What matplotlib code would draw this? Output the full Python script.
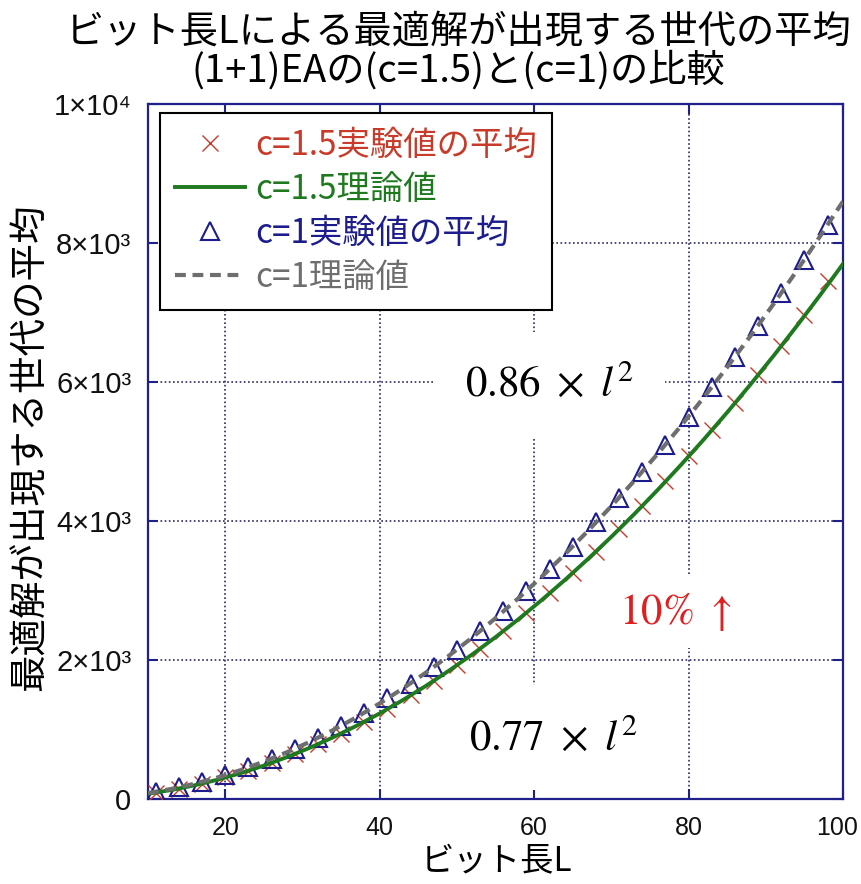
import numpy as np
import matplotlib
matplotlib.use("Agg")
import matplotlib.pyplot as plt
import matplotlib.transforms as mtransforms

plt.rcParams['font.family'] = ['Noto Sans CJK JP', 'DejaVu Sans']
plt.rcParams['mathtext.fontset'] = 'stix'

# ---- data ----
x_exp = [11, 14, 17, 20, 23, 26, 29, 32, 35, 38, 41, 44, 47, 50, 53,
         56, 59, 62, 65, 68, 71, 74, 77, 80, 83, 86, 89, 92, 95, 98]
c15_exp = [90, 150, 220, 310, 410, 520, 650, 790, 940, 1110, 1290, 1490, 1700, 1930, 2160,
           2420, 2680, 2960, 3250, 3560, 3880, 4220, 4570, 4930, 5310, 5700, 6100, 6520, 6970, 7450]
c1_exp = [100, 170, 250, 340, 460, 580, 720, 880, 1050, 1240, 1450, 1660, 1900, 2150, 2420,
          2700, 2990, 3310, 3630, 3980, 4330, 4710, 5100, 5500, 5930, 6360, 6810, 7280, 7760, 8260]

x_th = [10, 13, 16, 19, 22, 25, 28, 31, 34, 37, 40, 43, 46, 49, 52, 55,
        58, 61, 64, 67, 70, 73, 76, 79, 82, 85, 88, 91, 94, 97, 100]
c15_th = [77, 130, 197, 278, 373, 481, 604, 740, 890, 1054, 1232, 1424, 1629, 1849, 2082, 2329,
          2590, 2865, 3154, 3457, 3773, 4103, 4448, 4806, 5177, 5563, 5963, 6376, 6804, 7245, 7700]
c1_th = [86, 145, 220, 310, 416, 538, 674, 826, 994, 1177, 1376, 1590, 1820, 2065, 2325, 2602,
         2893, 3200, 3523, 3861, 4214, 4583, 4967, 5367, 5783, 6214, 6660, 7122, 7599, 8092, 8600]

xticks = [20, 40, 60, 80, 100]
yticks = [0, 2000, 4000, 6000, 8000, 10000]
ytick_labels = ["0", "2×10³", "4×10³", "6×10³", "8×10³", "1×10⁴"]

labels = ["c=1.5実験値の平均", "c=1.5理論値", "c=1実験値の平均", "c=1理論値"]

NAVY = "#20208a"
RED = "#c83a2a"
GREEN = "#1f7a1f"
BLUE = "#1c1c8c"
GRAY = "#6e6e6e"
TICKFONT = ["Liberation Sans", "DejaVu Sans"]

fig = plt.figure(figsize=(8.62, 8.84), dpi=100)
ax = fig.add_axes([0.1717, 0.0961, 0.8063, 0.7863])

l1, = ax.plot(x_exp, c15_exp, ls="none", marker="x", ms=12, mew=1.0, color=RED, zorder=3)
l3, = ax.plot(x_exp, c1_exp, ls="none", marker="^", ms=13, mew=1.5, mfc="none", mec=BLUE,
              color=BLUE, zorder=4)
l2, = ax.plot(x_th, c15_th, "-", color=GREEN, lw=2.8, zorder=5)
l4, = ax.plot(x_th, c1_th, "--", color=GRAY, lw=3, dashes=(2.6, 1.6), zorder=6)

ax.set_xlim(10, 100)
ax.set_ylim(0, 10000)
ax.set_xticks(xticks)
ax.set_xticklabels([str(v) for v in xticks], family=TICKFONT, fontsize=18)
ax.set_yticks(yticks)
ax.set_yticklabels(ytick_labels, family=TICKFONT, fontsize=21)
ax.tick_params(direction="in", length=7, width=1.5, color=NAVY, top=True, right=True, pad=12,
               labelcolor="#111111")
for s in ax.spines.values():
    s.set_color(NAVY)
    s.set_linewidth(1.6)
ax.grid(True, ls=(0, (1, 1.5)), color="#2a2a6a", lw=1.2)

# annotations with white boxes covering the grid
box = dict(facecolor="white", edgecolor="none", pad=22)
ax.text(62, 5970, r"$0.86\ \times\ l^2$", fontsize=31, ha="center", va="center", bbox=box, zorder=2.5)
ax.text(62.5, 880, r"$0.77\ \times\ l^2$", fontsize=31, ha="center", va="center", bbox=box, zorder=2.5)
ax.text(78.3, 2690, r"$\mathrm{10\%}\ \uparrow$", fontsize=31, color="#e02020",
        ha="center", va="center", bbox=dict(facecolor="white", edgecolor="none", pad=10), zorder=2.5)

leg = ax.legend([l1, l2, l3, l4], labels, loc="upper left", bbox_to_anchor=(0.017, 0.987),
                borderaxespad=0, fontsize=24, frameon=True, fancybox=False, framealpha=1,
                edgecolor="black", handlelength=2.1, handletextpad=0.3, labelspacing=0.27,
                borderpad=0.45)
leg.get_frame().set_linewidth(1.5)
for t, c in zip(leg.get_texts(), [RED, GREEN, BLUE, GRAY]):
    t.set_color(c)

fig.text(0.532, 1 - 52 / 884, "ビット長Lによる最適解が出現する世代の平均\n(1+1)EAの(c=1.5)と(c=1)の比較",
         ha="center", va="center", fontsize=27.5, linespacing=0.98)
fig.text(497 / 862, 1 - 862 / 884, "ビット長L", ha="center", va="center", fontsize=24)
fig.text(30 / 862, 1 - 447 / 884, "最適解が出現する世代の平均", rotation=90,
         ha="center", va="center", fontsize=27)

# keep the last x tick label inside the figure
last = ax.get_xticklabels()[-1]
last.set_transform(last.get_transform() + mtransforms.ScaledTranslation(-6 / 100, 0, fig.dpi_scale_trans))

plt.savefig("out.png", dpi=100)
